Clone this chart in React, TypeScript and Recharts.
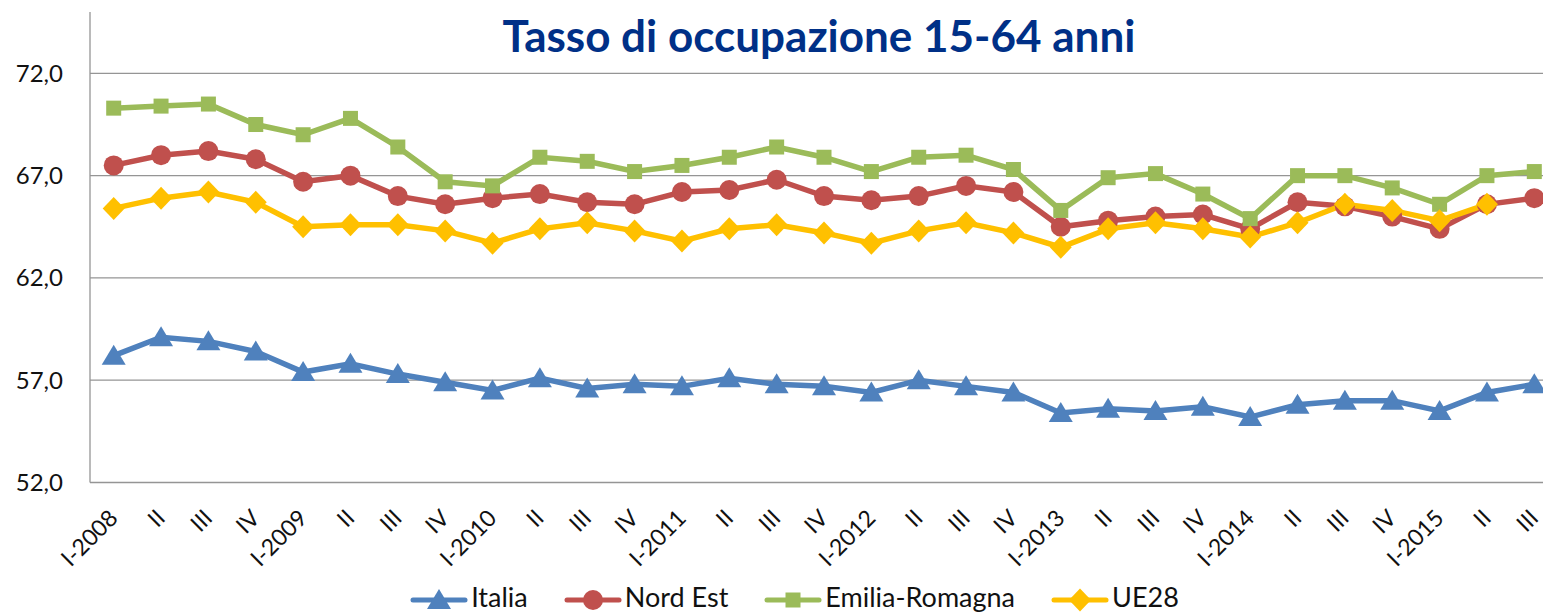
import React from "react";
import { Line, LineChart, ReferenceLine, XAxis, YAxis } from "recharts";

const quarters = [
  "I-2008", "II", "III", "IV",
  "I-2009", "II", "III", "IV",
  "I-2010", "II", "III", "IV",
  "I-2011", "II", "III", "IV",
  "I-2012", "II", "III", "IV",
  "I-2013", "II", "III", "IV",
  "I-2014", "II", "III", "IV",
  "I-2015", "II", "III",
];

const italia = [
  58.2, 59.1, 58.9, 58.4, 57.4, 57.8, 57.3, 56.9, 56.5, 57.1, 56.6, 56.8,
  56.7, 57.1, 56.8, 56.7, 56.4, 57.0, 56.7, 56.4, 55.4, 55.6, 55.5, 55.7,
  55.2, 55.8, 56.0, 56.0, 55.5, 56.4, 56.8,
];
const nordEst = [
  67.5, 68.0, 68.2, 67.8, 66.7, 67.0, 66.0, 65.6, 65.9, 66.1, 65.7, 65.6,
  66.2, 66.3, 66.8, 66.0, 65.8, 66.0, 66.5, 66.2, 64.5, 64.8, 65.0, 65.1,
  64.4, 65.7, 65.5, 65.0, 64.4, 65.6, 65.9,
];
const emiliaRomagna = [
  70.3, 70.4, 70.5, 69.5, 69.0, 69.8, 68.4, 66.7, 66.5, 67.9, 67.7, 67.2,
  67.5, 67.9, 68.4, 67.9, 67.2, 67.9, 68.0, 67.3, 65.3, 66.9, 67.1, 66.1,
  64.9, 67.0, 67.0, 66.4, 65.6, 67.0, 67.2,
];
const ue28 = [
  65.4, 65.9, 66.2, 65.7, 64.5, 64.6, 64.6, 64.3, 63.7, 64.4, 64.7, 64.3,
  63.8, 64.4, 64.6, 64.2, 63.7, 64.3, 64.7, 64.2, 63.5, 64.4, 64.7, 64.4,
  64.0, 64.7, 65.6, 65.3, 64.8, 65.6, null,
];

const yTicks = [52, 57, 62, 67, 72];

const series = [
  { key: "italia", name: "Italia", color: "#4F81BD", marker: "triangle" },
  { key: "nordEst", name: "Nord Est", color: "#C0504D", marker: "circle" },
  { key: "emilia", name: "Emilia-Romagna", color: "#9BBB59", marker: "square" },
  { key: "ue28", name: "UE28", color: "#FFC000", marker: "diamond" },
];

const data = quarters.map((q, i) => ({
  q,
  italia: italia[i],
  nordEst: nordEst[i],
  emilia: emiliaRomagna[i],
  ue28: ue28[i],
}));

const FONT = "Lato, 'Open Sans', sans-serif";
const GRID = "#959595";

function Marker({ type, cx, cy, color }: { type: string; cx: number; cy: number; color: string }) {
  if (type === "triangle") {
    return (
      <polygon
        points={`${cx},${cy - 11} ${cx + 12},${cy + 9} ${cx - 12},${cy + 9}`}
        fill={color}
      />
    );
  }
  if (type === "circle") return <circle cx={cx} cy={cy} r={10} fill={color} />;
  if (type === "square") return <rect x={cx - 7.5} y={cy - 7.5} width={15} height={15} fill={color} />;
  return (
    <polygon
      points={`${cx},${cy - 11.5} ${cx + 11},${cy} ${cx},${cy + 11.5} ${cx - 11},${cy}`}
      fill={color}
    />
  );
}

const makeDot = (type: string, color: string) => (props: any) => {
  const { cx, cy, index, value } = props;
  if (value == null || cx == null || cy == null) return <g key={index} />;
  return <Marker key={index} type={type} cx={cx} cy={cy} color={color} />;
};

const QuarterTick = (props: any) => {
  const { x, y, payload } = props;
  const ax = x + 5.5;
  const ay = y + 37;
  return (
    <text
      x={ax}
      y={ay}
      transform={`rotate(-45, ${ax}, ${ay})`}
      textAnchor="end"
      fontFamily={FONT}
      fontSize={23}
      fill="#111"
    >
      {payload.value}
    </text>
  );
};

// legend sits right on the bottom edge, like in the original slide
const LegendRow = () => (
  <div
    style={{
      position: "absolute",
      top: 580,
      left: 0,
      width: 1589,
      height: 33,
      display: "flex",
      justifyContent: "center",
      gap: 36,
      fontFamily: FONT,
      fontSize: 27,
      color: "#111",
      lineHeight: "33px",
    }}
  >
    {series.map((s) => (
      <div key={s.key} style={{ display: "flex", alignItems: "flex-start" }}>
        <svg width={58} height={33} style={{ marginRight: 3 }}>
          <line x1={3} y1={20} x2={55} y2={20} stroke={s.color} strokeWidth={5} strokeLinecap="round" />
          <Marker type={s.marker} cx={29} cy={20} color={s.color} />
        </svg>
        <span>{s.name}</span>
      </div>
    ))}
  </div>
);

export default function App() {
  return (
    <div
      style={{
        position: "absolute",
        left: 0,
        top: 0,
        width: 1543,
        height: 614,
        overflow: "hidden",
        background: "#fff",
      }}
    >
      <div
        style={{
          position: "absolute",
          top: 9,
          left: 0,
          width: 1638,
          textAlign: "center",
          fontFamily: FONT,
          fontWeight: 700,
          fontSize: 44,
          lineHeight: "52px",
          color: "#003087",
          zIndex: 1,
        }}
      >
        Tasso di occupazione 15-64 anni
      </div>
      <LineChart
        width={1600}
        height={614}
        data={data}
        margin={{ top: 12, right: 42, left: 0, bottom: 0 }}
      >
        {yTicks.slice(1).map((t) => (
          <ReferenceLine key={t} y={t} stroke={GRID} strokeWidth={1.3} />
        ))}
        <XAxis
          dataKey="q"
          interval={0}
          height={131.5}
          padding={{ left: 23.7, right: 23.7 }}
          tickLine={false}
          tickSize={0}
          tickMargin={0}
          axisLine={{ stroke: GRID, strokeWidth: 1.3 }}
          tick={<QuarterTick />}
        />
        <YAxis
          width={90}
          domain={[52, 75]}
          ticks={yTicks}
          allowDataOverflow
          tickLine={false}
          tickSize={0}
          tickMargin={27}
          axisLine={{ stroke: GRID, strokeWidth: 1.3 }}
          tick={{ fontSize: 24, fontFamily: FONT, fill: "#111" }}
          tickFormatter={(v: number) => v.toFixed(1).replace(".", ",")}
        />
        {series.map((s) => (
          <Line
            key={s.key}
            dataKey={s.key}
            name={s.name}
            stroke={s.color}
            strokeWidth={5.5}
            dot={makeDot(s.marker, s.color)}
            activeDot={false}
            isAnimationActive={false}
          />
        ))}
      </LineChart>
      <LegendRow />
    </div>
  );
}
